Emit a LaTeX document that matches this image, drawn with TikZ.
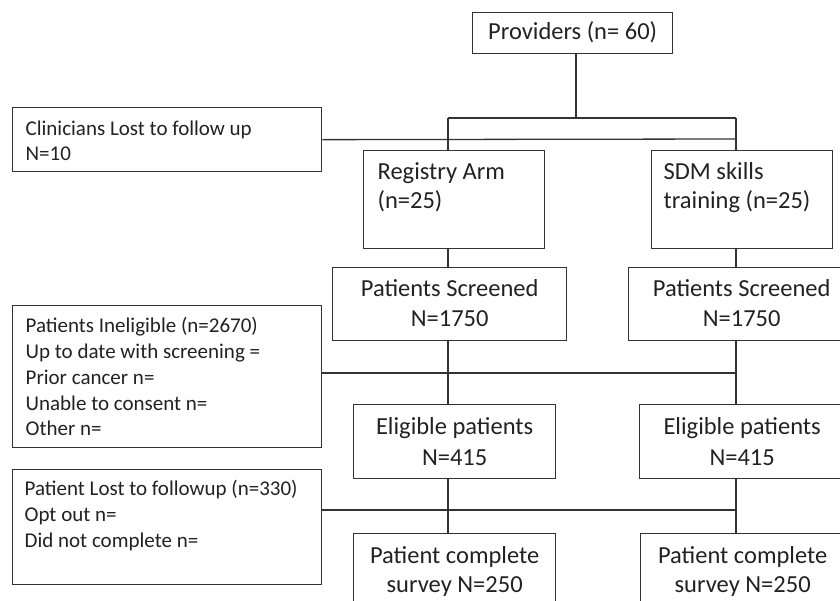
\documentclass[tikz,border=0pt]{standalone}
\usepackage{fontspec}
\setmainfont{Carlito}
\definecolor{ln}{HTML}{333333}
\definecolor{tx}{HTML}{222222}
\tikzset{
  boxst/.style={draw=ln, line width=1.3pt, text=tx, inner ysep=0pt, anchor=north west},
  conn/.style={draw=ln, line width=1.3pt}
}
% name, x, y, w, h, pad, first baseline, alignment+font, text
\newcommand\mkbox[9]{\node[boxst, inner xsep=#6pt] (#1) at (#2,#3)
  {\parbox[c][#5pt][t]{\dimexpr #4pt-#6pt-#6pt\relax}{#8\rule{0pt}{#7pt}#9}};}
\begin{document}
\begin{tikzpicture}[x=1pt,y=-1pt]
\useasboundingbox (0,0) rectangle (840,600);
\fill[white] (0,0) rectangle (840,600);
% boxes
\mkbox{prov}{472}{12}{200}{41}{4}{27}{\centering\fontsize{24.5}{30}\selectfont}{Providers (n=~60)}
\mkbox{clin}{12}{107}{309}{64}{13}{28}{\raggedright\fontsize{21}{25}\selectfont}{Clinicians Lost to follow up\\N=10}
\mkbox{reg}{363}{150}{181}{98}{14}{29}{\raggedright\fontsize{24.5}{29}\selectfont}{Registry Arm\\(n=25)}
\mkbox{sdm}{651}{150}{181}{98}{12}{29}{\raggedright\fontsize{24.5}{29}\selectfont}{SDM skills\\training (n=25)}
\mkbox{psl}{332}{267}{234}{73}{4}{29}{\centering\fontsize{24.5}{30}\selectfont}{Patients Screened\\N=1750}
\mkbox{psr}{628}{267}{226}{73}{4}{29}{\centering\fontsize{24.5}{30}\selectfont}{Patients Screened\\N=1750}
\mkbox{inel}{12}{305}{309}{142}{13}{27}{\raggedright\fontsize{21}{25.8}\selectfont}{Patients Ineligible (n=2670)\\Up to date with screening =\\Prior cancer n=\\Unable to consent n=\\Other n=}
\mkbox{eligl}{353}{404}{202}{74}{4}{30}{\centering\fontsize{24.5}{31}\selectfont}{Eligible patients\\N=415}
\mkbox{eligr}{639}{404}{205}{74}{4}{30}{\centering\fontsize{24.5}{31}\selectfont}{Eligible patients\\N=415}
\mkbox{lost}{12}{469}{309}{115}{12}{26}{\raggedright\fontsize{21}{25.8}\selectfont}{Patient Lost to followup (n=330)\\Opt out n=\\Did not complete n=}
\mkbox{pcl}{353}{533}{202}{79}{4}{30}{\centering\fontsize{24.5}{29}\selectfont}{Patient complete\\survey N=250}
\mkbox{pcr}{640}{533}{204}{79}{4}{30}{\centering\fontsize{24.5}{29}\selectfont}{Patient complete\\survey N=250}
% connector points
\coordinate (pv) at (576,118);
\coordinate (tl) at (448,118);
\coordinate (tr) at (736,118);
\coordinate (c1) at (736,139);
\coordinate (c2) at (736,373);
\coordinate (c3) at (736,510);
% connectors
\draw[conn] (prov.south -| pv) -- (pv);
\draw[conn] (tl) -- (tr);
\draw[conn] (tl) -- (tl |- reg.north);
\draw[conn] (tr) -- (tr |- sdm.north);
\draw[conn] (clin.east) -- (c1);
\draw[conn] (tl |- reg.south) -- (tl |- psl.north);
\draw[conn] (tr |- sdm.south) -- (tr |- psr.north);
\draw[conn] (tl |- psl.south) -- (tl |- eligl.north);
\draw[conn] (tr |- psr.south) -- (tr |- eligr.north);
\draw[conn] (inel.east |- c2) -- (c2);
\draw[conn] (tl |- eligl.south) -- (tl |- pcl.north);
\draw[conn] (tr |- eligr.south) -- (tr |- pcr.north);
\draw[conn] (lost.east |- c3) -- (c3);
\end{tikzpicture}
\end{document}
